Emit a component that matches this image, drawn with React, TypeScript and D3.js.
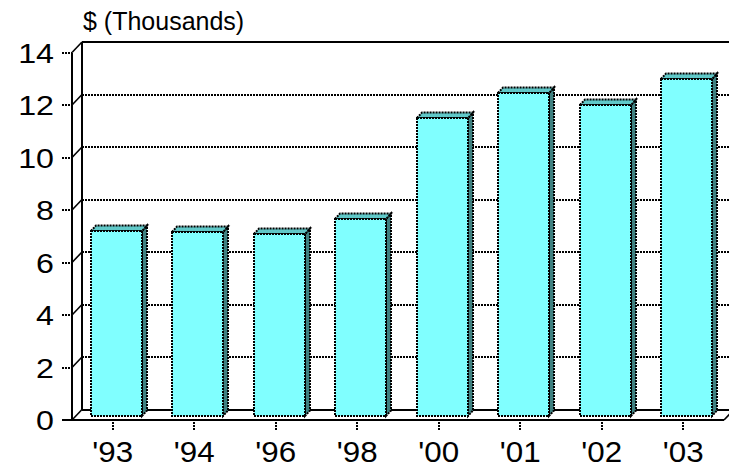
import React from "react";
import * as d3 from "d3";

const categories = ["'93", "'94", "'96", "'98", "'00", "'01", "'02", "'03"];
const values = [7.05, 7.0, 6.95, 7.5, 11.35, 12.3, 11.85, 12.85];
const yTicks = [0, 2, 4, 6, 8, 10, 12, 14];
const yTitle = "$ (Thousands)";

const W = 729;
const H = 468;
const X0 = 72;
const X1 = 724;
const Y0 = 420;
const YTOP = 52.5;
const DX = 10; // back-wall depth offset
const DY = -10.5;
const FDX = 3.5; // bar front offset
const FDY = -4;
const BDX = 8.5; // bar back offset
const BDY = -9.5;

const FONT = "'Liberation Sans', Arial, Helvetica, sans-serif";

export default function App() {
  const x = d3.scaleBand<string>().domain(categories).range([X0, X1]).padding(0);
  const y = d3.scaleLinear().domain([0, 14]).range([Y0, YTOP]);
  const step = x.step();
  const barW = step * 0.63;
  const r0 = (v: number) => Math.round(v);

  const dotted = { stroke: "#000", strokeWidth: 2, strokeDasharray: "2,1", fill: "none", shapeRendering: "crispEdges" } as const;
  const edge = { stroke: "#000", strokeWidth: 2, strokeDasharray: "2,1" } as const;

  return (
    <svg width={W} height={H} style={{ position: "absolute", left: 0, top: 0, background: "#fff" }}>
      {/* back wall top line */}
      <line x1={X0 + DX} x2={X1 + DX + 20} y1={r0(y(14) + DY)} y2={r0(y(14) + DY)} stroke="#000" strokeWidth={2.5} shapeRendering="crispEdges" />
      {/* back wall gridlines */}
      {yTicks.filter(t => t > 0 && t < 14).map(t => (
        <line key={"g" + t} x1={X0 + DX} x2={X1 + DX + 20} y1={r0(y(t) + DY)} y2={r0(y(t) + DY)} {...dotted} />
      ))}
      {/* back floor line */}
      <line x1={X0 + DX} x2={X1 + DX + 20} y1={r0(y(0) + DY)} y2={r0(y(0) + DY)} stroke="#000" strokeWidth={2} shapeRendering="crispEdges" />
      {/* back wall left edge */}
      <line x1={X0 + DX} x2={X0 + DX} y1={y(14) + DY} y2={y(0) + DY} stroke="#000" strokeWidth={2} shapeRendering="crispEdges" />
      {/* left wall diagonals */}
      {yTicks.map(t => (
        <line key={"d" + t} x1={X0} y1={y(t)} x2={X0 + DX} y2={y(t) + DY} stroke="#000" strokeWidth={1.6} />
      ))}
      {/* front axis */}
      <line x1={X0} x2={X0} y1={y(0)} y2={y(14)} stroke="#000" strokeWidth={2} shapeRendering="crispEdges" />
      {/* floor front line and right end */}
      <line x1={X0 - 10} x2={X1} y1={y(0)} y2={y(0)} stroke="#000" strokeWidth={2} shapeRendering="crispEdges" />
      <line x1={X1} y1={y(0)} x2={X1 + DX} y2={y(0) + DY} stroke="#000" strokeWidth={1.6} />

      {/* y ticks and labels */}
      {yTicks.map(t => (
        <g key={"t" + t}>
          <line x1={X0 - 10} x2={X0} y1={r0(y(t))} y2={r0(y(t))} stroke="#000" strokeWidth={2} strokeDasharray="2,1" shapeRendering="crispEdges" />
          <text x={54} y={y(t)} dy="0.36em" textAnchor="end" fontFamily={FONT} fontSize={28}
            transform={`translate(54,0) scale(1.15,1) translate(-54,0)`} fill="#000">{t}</text>
        </g>
      ))}

      {/* bars */}
      {categories.map((c, i) => {
        const cx = (x(c) as number) + step / 2;
        const l = r0(cx - barW / 2 + FDX);
        const r = r0(cx + barW / 2 + FDX);
        const b = r0(y(0) + FDY);
        const t = r0(y(values[i]) + FDY);
        const ox = BDX - FDX;
        const oy = BDY - FDY;
        const top = `M${l},${t}L${l + ox},${t + oy}L${r + ox},${t + oy}L${r},${t}Z`;
        const side = `M${r},${t}L${r + ox},${t + oy}L${r + ox},${b + oy}L${r},${b}Z`;
        return (
          <g key={c}>
            <path d={side} fill="#3f8080" {...edge} />
            <path d={top} fill="#60c8c8" {...edge} />
            <rect x={l} y={t} width={r - l} height={b - t} fill="#80ffff" {...edge} shapeRendering="crispEdges" />
          </g>
        );
      })}

      {/* x ticks and labels */}
      {categories.map(c => {
        const cx = (x(c) as number) + step / 2;
        return (
          <g key={"x" + c}>
            <line x1={r0(cx)} x2={r0(cx)} y1={y(0) + 2} y2={y(0) + 11} stroke="#000" strokeWidth={2} strokeDasharray="2,1" shapeRendering="crispEdges" />
            <text x={cx} y={462} textAnchor="middle" fontFamily={FONT} fontSize={29}
              transform={`translate(${cx},0) scale(1.08,1) translate(${-cx},0)`} fill="#000">{c}</text>
          </g>
        );
      })}

      {/* title */}
      <text x={83} y={30} fontFamily={FONT} fontSize={25} fill="#000">{yTitle}</text>
    </svg>
  );
}
